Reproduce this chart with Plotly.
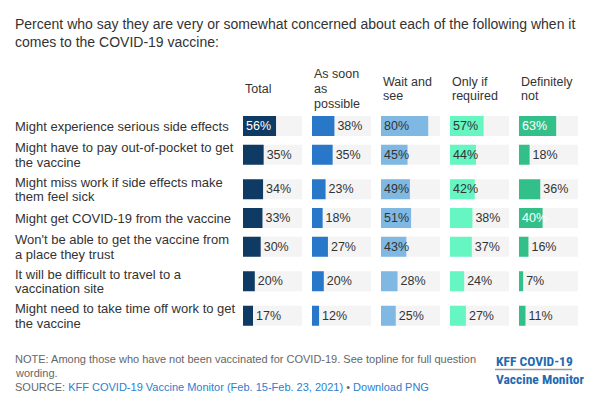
import plotly.graph_objects as go

# ---------------- data ----------------
categories = [
    "Might experience serious side effects",
    "Might have to pay out-of-pocket to get<br>the vaccine",
    "Might miss work if side effects make<br>them feel sick",
    "Might get COVID-19 from the vaccine",
    "Won't be able to get the vaccine from<br>a place they trust",
    "It will be difficult to travel to a<br>vaccination site",
    "Might need to take time off work to get<br>the vaccine",
]
series_names = ["Total", "As soon<br>as<br>possible", "Wait and<br>see", "Only if<br>required", "Definitely<br>not"]
total = [56, 35, 34, 33, 30, 20, 17]
asap = [38, 35, 23, 18, 27, 20, 12]
wait_and_see = [80, 45, 49, 51, 43, 28, 25]
only_if_required = [57, 44, 42, 38, 37, 24, 27]
definitely_not = [63, 18, 36, 40, 16, 7, 11]
series_values = [total, asap, wait_and_see, only_if_required, definitely_not]

title_lines = [
    "Percent who say they are very or somewhat concerned about each of the following when it",
    "comes to the COVID-19 vaccine:",
]
note_lines = [
    "NOTE: Among those who have not been vaccinated for COVID-19. See topline for full question",
    "wording.",
]
source_label = "SOURCE: "
source_link = "KFF COVID-19 Vaccine Monitor (Feb. 15-Feb. 23, 2021)"
download_link = "Download PNG"
logo_lines = ["KFF COVID-19", "Vaccine Monitor"]

# ---------------- style / layout ----------------
W, H = 611, 414
FONT = "Liberation Sans, Arial, Helvetica, sans-serif"
NARROW = "Liberation Sans Narrow, Arial Narrow, Roboto Condensed, Liberation Sans, sans-serif"
TEXT = "#333333"
colors = ["#0f3a63", "#2977c9", "#7fb9e3", "#66f6c2", "#33bf8a"]
inside_text_colors = ["#ffffff", "#ffffff", "#333333", "#333333", "#ffffff"]
BG = "#f4f4f4"
LINK = "#2b80cf"
LOGO = "#2369b0"
COL_X0, COL_STEP, COL_W = 243, 69, 59
LABEL_X = 13
ROW1_CENTER = 126
ROW_H1, ROW_H2 = 23, 34.5
BAR_H = 20
INSIDE_MIN = 40

# row centres (pixel units on the y axis) from label line counts
centers = []
c = ROW1_CENTER
prev_h = None
for lab in categories:
    n = lab.count("<br>") + 1
    h = ROW_H1 if n == 1 else ROW_H2
    if prev_h is not None:
        c = c + (prev_h + h) / 2
    centers.append(c)
    prev_h = h

fig = go.Figure()
annotations = []
shapes = []


def px(x):
    return x / W


def add_lines(text, x, yc, spacing, size, color, family=FONT, bold=False):
    lines = text.split("<br>")
    n = len(lines)
    for k, ln in enumerate(lines):
        t = f"<b>{ln}</b>" if bold else ln
        annotations.append(dict(
            text=t, x=px(x), xref="paper", y=yc + (k - (n - 1) / 2) * spacing, yref="y",
            xanchor="left", yanchor="middle", showarrow=False, align="left",
            font=dict(size=size, color=color, family=family),
        ))


for j, (name, vals) in enumerate(zip(series_names, series_values)):
    ax = "x" if j == 0 else f"x{j + 1}"
    fig.add_trace(go.Bar(
        x=[100] * len(vals), y=centers, orientation="h", width=BAR_H,
        marker=dict(color=BG, line=dict(width=0)), xaxis=ax, yaxis="y",
        hoverinfo="skip", showlegend=False,
    ))
    inside = [v >= INSIDE_MIN for v in vals]
    fig.add_trace(go.Bar(
        x=vals, y=centers, orientation="h", width=BAR_H,
        marker=dict(color=colors[j], line=dict(width=0)), xaxis=ax, yaxis="y",
        text=[f"{v}%" for v in vals],
        textposition=["inside" if i else "outside" for i in inside],
        insidetextanchor="start", constraintext="none", cliponaxis=False,
        textfont=dict(size=12.5, family=FONT,
                      color=[inside_text_colors[j] if i else TEXT for i in inside]),
        name=name.replace("<br>", " "), showlegend=False,
    ))
    x0 = COL_X0 + j * COL_STEP
    layout_ax = dict(domain=[px(x0), px(x0 + COL_W)], range=[0, 100], visible=False,
                     fixedrange=True, anchor="y")
    fig.update_layout(**{("xaxis" if j == 0 else f"xaxis{j + 1}"): layout_ax})
    add_lines(name, x0, 89, 14.6, 12.5, TEXT)

for lab, yc in zip(categories, centers):
    add_lines(lab, LABEL_X, yc, 14.5, 13, TEXT)

add_lines("<br>".join(title_lines), LABEL_X, 33, 18, 14, TEXT)
add_lines("<br>".join(note_lines), LABEL_X, 366, 13.9, 11, "#666666")
annotations.append(dict(
    text=(f"{source_label}<span style='color:{LINK}'>{source_link}</span> • "
          f"<span style='color:{LINK}'>{download_link}</span>"),
    x=px(LABEL_X), xref="paper", y=386.8, yref="y", xanchor="left", yanchor="middle",
    showarrow=False, align="left", font=dict(size=11, color="#666666", family=FONT),
))

# logo
add_lines(logo_lines[0], 494, 361, 14, 13.5, LOGO, family=NARROW, bold=True)
add_lines(logo_lines[1], 494, 379, 14, 13.5, LOGO, family=NARROW, bold=True)
shapes.append(dict(type="line", xref="paper", yref="y", x0=px(495), x1=px(572),
                   y0=369.5, y1=369.5, line=dict(color="#999999", width=1.5)))

fig.update_layout(
    width=W, height=H, margin=dict(l=0, r=0, t=0, b=0, pad=0),
    paper_bgcolor="white", plot_bgcolor="white", barmode="overlay",
    yaxis=dict(domain=[0, 1], range=[H, 0], visible=False, fixedrange=True),
    annotations=annotations, shapes=shapes, showlegend=False,
    font=dict(family=FONT, color=TEXT),
)

fig.write_html(
    "out.html",
    config={"displayModeBar": False},
    post_script="document.body.style.margin='0';document.body.style.overflow='hidden';",
)
